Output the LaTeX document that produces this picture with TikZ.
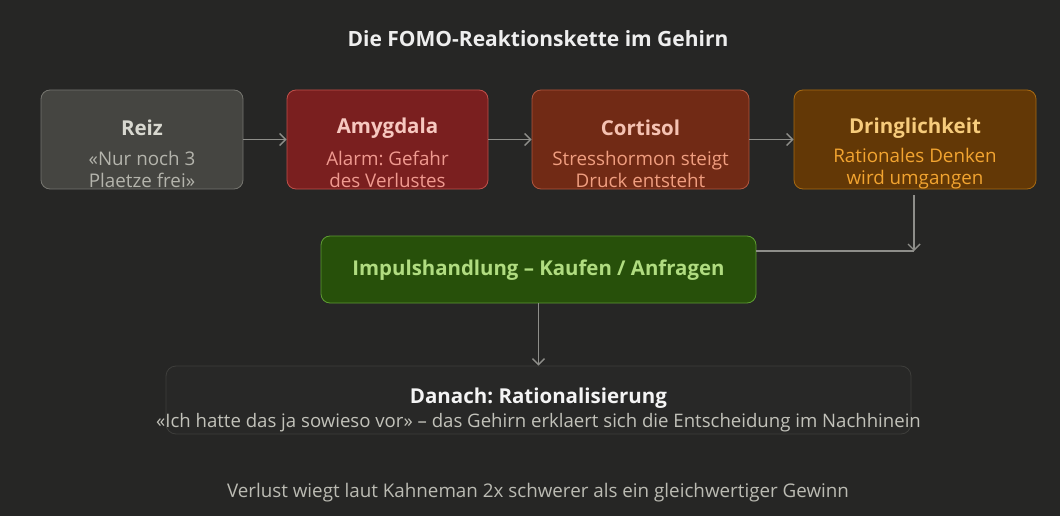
\documentclass[tikz,border=0pt]{standalone}
\usepackage{fontspec}
\setmainfont{Open Sans}
\usetikzlibrary{arrows.meta}
\definecolor{bg}{HTML}{262625}
\definecolor{arrowc}{HTML}{8E8E8A}
\definecolor{reizfill}{HTML}{454541}
\definecolor{reizline}{HTML}{75756F}
\definecolor{reiztitle}{HTML}{D8D8D0}
\definecolor{reizsub}{HTML}{B4B4AC}
\definecolor{amyfill}{HTML}{7A1F1F}
\definecolor{amyline}{HTML}{C0504A}
\definecolor{amytitle}{HTML}{F7C8C0}
\definecolor{amysub}{HTML}{F09A90}
\definecolor{cortfill}{HTML}{712A15}
\definecolor{cortline}{HTML}{B0563E}
\definecolor{corttitle}{HTML}{F5C2B2}
\definecolor{cortsub}{HTML}{F09E80}
\definecolor{dringfill}{HTML}{633806}
\definecolor{dringline}{HTML}{A86A12}
\definecolor{dringtitle}{HTML}{F7CC7C}
\definecolor{dringsub}{HTML}{F2A430}
\definecolor{impfill}{HTML}{27500A}
\definecolor{impline}{HTML}{5E9C32}
\definecolor{imptext}{HTML}{B0DC80}
\definecolor{danfill}{HTML}{282827}
\definecolor{danline}{HTML}{3E3E3B}
\definecolor{dansub}{HTML}{C2C2BA}
\definecolor{foot}{HTML}{BBBBB3}
\frenchspacing
\begin{document}
\begin{tikzpicture}[x=1pt,y=-1pt,
  box/.style={draw, rounded corners=9pt, line width=0.8pt},
  ttl/.style={font=\fontsize{20.5}{22}\selectfont\bfseries, inner sep=0pt},
  sub/.style={font=\fontsize{18.8}{22}\selectfont, align=center, inner sep=0pt},
  arr/.style={draw=arrowc, line width=1.4pt, -{Straight Barb[length=6pt,width=12pt,line width=1.4pt]}},
  plain/.style={draw=arrowc, line width=1.4pt}]
\fill[bg] (0,0) rectangle (1060,516);
\useasboundingbox (0,0) rectangle (1060,516);

\node[font=\fontsize{21}{22}\selectfont\bfseries, text=white!92!bg, inner sep=0pt] (title) at (538,39) {Die FOMO-Reaktionskette im Gehirn};

\node[box, fill=reizfill, draw=reizline, minimum width=202pt, minimum height=99pt] (reiz) at (142,139.5) {};
\node[ttl, text=reiztitle] (reizt) at (142,128) {Reiz};
\node[sub, text=reizsub] (reizs) at (142,169) {«Nur noch 3\\Plaetze frei»};

\node[box, fill=amyfill, draw=amyline, minimum width=201pt, minimum height=99pt] (amy) at (387.5,139.5) {};
\node[ttl, text=amytitle] (amyt) at (387.5,128) {Amygdala};
\node[sub, text=amysub] (amys) at (387.5,169) {Alarm: Gefahr\\des Verlustes};

\node[box, fill=cortfill, draw=cortline, minimum width=217pt, minimum height=99pt] (cort) at (640.5,139.5) {};
\node[ttl, text=corttitle] (cortt) at (640.5,128) {Cortisol};
\node[sub, text=cortsub] (corts) at (640.5,169) {Stresshormon steigt\\Druck entsteht};

\node[box, fill=dringfill, draw=dringline, minimum width=242pt, minimum height=99pt] (dring) at (915,139.5) {};
\node[ttl, text=dringtitle] (dringt) at (915,128) {Dringlichkeit};
\node[sub, text=dringsub] (drings) at (915,169) {Rationales Denken\\wird umgangen};

\node[box, fill=impfill, draw=impline, minimum width=435pt, minimum height=67pt] (imp) at (538.5,269.5) {};
\node[font=\fontsize{20.4}{22}\selectfont\bfseries, text=imptext, inner sep=0pt] (impt) at (538.5,270) {Impulshandlung – Kaufen / Anfragen};

\node[box, rounded corners=10pt, fill=danfill, draw=danline, minimum width=745pt, minimum height=68pt] (dan) at (538.5,400) {};
\node[ttl, text=white!95!bg] (dant) at (538.5,398) {Danach: Rationalisierung};
\node[sub, font=\fontsize{18.6}{22}\selectfont, text=dansub] (dans) at (538.5,423) {«Ich hatte das ja sowieso vor» – das Gehirn erklaert sich die Entscheidung im Nachhinein};

\node[font=\fontsize{18.8}{20}\selectfont, text=foot, inner sep=0pt] (footn) at (538,493) {Verlust wiegt laut Kahneman 2x schwerer als ein gleichwertiger Gewinn};

\draw[arr] (reiz.east) -- (amy.west);
\draw[arr] (amy.east) -- (cort.west);
\draw[arr] (cort.east) -- (dring.west);
\coordinate (dstart) at (914,195);
\coordinate (corner) at (914,251);
\draw[arr] (dstart) -- (corner);
\draw[plain] (corner) -- (corner -| imp.east);
\draw[arr] (imp.south) -- (dan.north);
\end{tikzpicture}
\end{document}
